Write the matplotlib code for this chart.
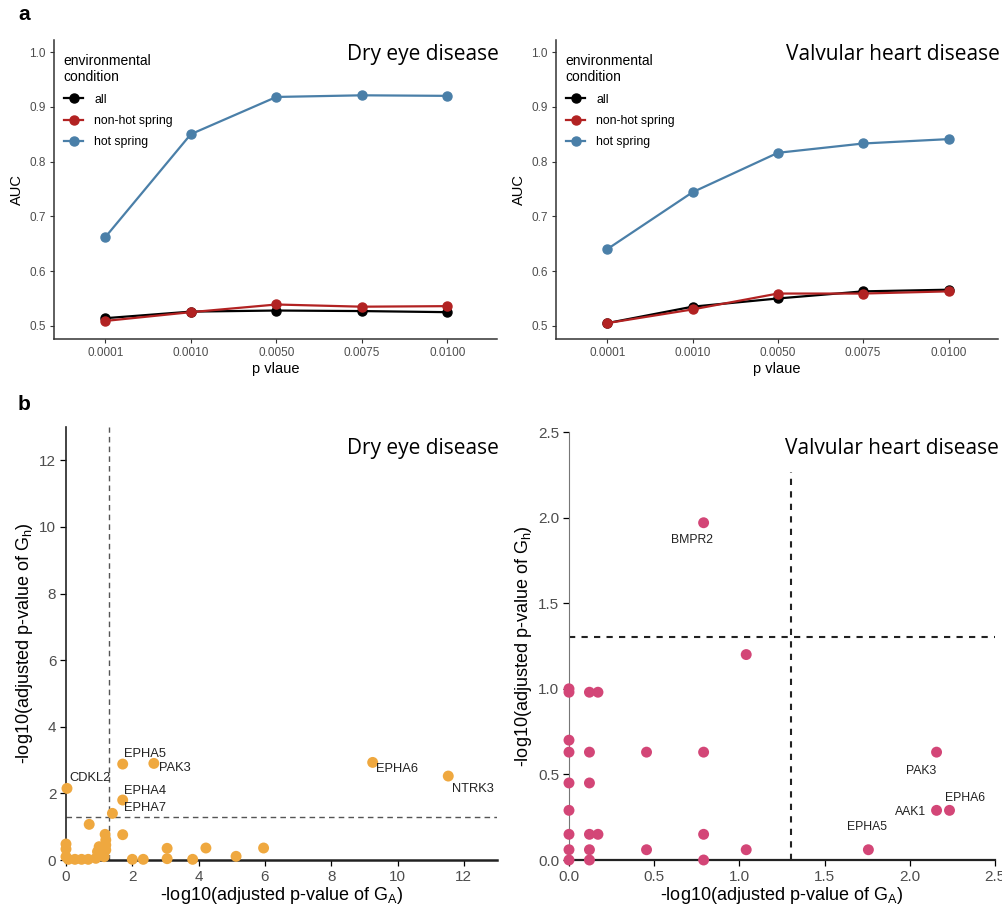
import numpy as np
import matplotlib.pyplot as plt

# ---- panel a data: AUC vs p value threshold
p_labels = ["0.0001", "0.0010", "0.0050", "0.0075", "0.0100"]
dry_all = [0.514, 0.526, 0.528, 0.527, 0.525]
dry_nonhot = [0.509, 0.525, 0.539, 0.535, 0.536]
dry_hot = [0.662, 0.850, 0.918, 0.921, 0.920]
valv_all = [0.505, 0.535, 0.550, 0.563, 0.566]
valv_nonhot = [0.505, 0.530, 0.559, 0.559, 0.563]
valv_hot = [0.640, 0.744, 0.816, 0.833, 0.841]

# ---- panel b data: -log10 adjusted p (G_A on x, G_h on y)
dry_x = [0.03, 1.71, 2.65, 1.71, 1.40, 9.25, 11.53, 0.70, 1.71, 1.18, 1.00, 1.10,
         1.20, 3.05, 4.22, 5.13, 5.96, 3.82, 2.00, 2.33, 3.05, 0.00, 0.00, 0.07,
         0.27, 0.47, 0.67, 0.90, 1.05, 1.20, 0.95, 1.15, 1.20, 0.00]
dry_y = [2.15, 2.88, 2.90, 1.80, 1.40, 2.93, 2.52, 1.07, 0.76, 0.77, 0.40, 0.35,
         0.45, 0.35, 0.36, 0.11, 0.36, 0.02, 0.02, 0.02, 0.04, 0.48, 0.33, 0.02,
         0.02, 0.02, 0.02, 0.05, 0.15, 0.60, 0.25, 0.10, 0.30, 0.10]
dry_genes = {"CDKL2": (0.03, 2.15), "EPHA5": (1.71, 2.88), "PAK3": (2.65, 2.90),
             "EPHA4": (1.71, 1.80), "EPHA7": (1.40, 1.40), "EPHA6": (9.25, 2.93),
             "NTRK3": (11.53, 2.52)}

valv_x = [0.79, 1.04, 0, 0, 0, 0, 0, 0, 0, 0, 0, 0.12, 0.12, 0.12, 0.12, 0.12, 0.12,
          0.17, 0.17, 0.455, 0.455, 0.79, 0.79, 0.79, 1.04, 1.757, 2.157, 2.157, 2.233]
valv_y = [1.97, 1.20, 0.98, 1.00, 0.70, 0.63, 0.45, 0.29, 0.15, 0.06, 0.0, 0.98, 0.63,
          0.45, 0.15, 0.06, 0.0, 0.98, 0.15, 0.63, 0.06, 0.63, 0.15, 0.0, 0.06, 0.06,
          0.63, 0.29, 0.29]
valv_genes = {"BMPR2": (0.79, 1.97), "EPHA5": (1.757, 0.06), "PAK3": (2.157, 0.63),
              "AAK1": (2.157, 0.29), "EPHA6": (2.233, 0.29)}

plt.rcParams['font.family'] = ['Liberation Sans', 'DejaVu Sans']
plt.rcParams['mathtext.fontset'] = 'custom'
plt.rcParams['mathtext.rm'] = 'Liberation Sans'

W, H = 1002, 913
fig = plt.figure(figsize=(W / 100, H / 100), dpi=100)

def ax_px(x0, y0, x1, y1):
    return fig.add_axes([x0 / W, 1 - y1 / H, (x1 - x0) / W, (y1 - y0) / H])

grey = "#4D4D4D"
c_all, c_non, c_hot = "black", "#B22222", "#4A7FA8"

def panel_a(ax, s_all, s_non, s_hot, title):
    xs = np.arange(len(p_labels))
    ax.plot(xs, s_all, "-o", color=c_all, lw=1.6, ms=6.5, label="all", zorder=3)
    ax.plot(xs, s_non, "-o", color=c_non, lw=1.6, ms=6.5, label="non-hot spring", zorder=3)
    ax.plot(xs, s_hot, "-o", color=c_hot, lw=1.6, ms=6.5, label="hot spring", zorder=3)
    ax.set_xlim(-0.6, 4.58)
    ax.set_ylim(0.476, 1.022)
    ax.set_xticks(xs)
    ax.set_xticklabels(p_labels)
    ax.set_yticks([0.5, 0.6, 0.7, 0.8, 0.9, 1.0])
    ax.set_yticklabels(["0.5", "0.6", "0.7", "0.8", "0.9", "1.0"])
    ax.tick_params(labelsize=8.5, labelcolor=grey, color="#333333", length=3, width=0.8, pad=3)
    for s in ["top", "right"]:
        ax.spines[s].set_visible(False)
    for s in ["left", "bottom"]:
        ax.spines[s].set_color("#333333")
        ax.spines[s].set_linewidth(1.1)
    ax.set_xlabel("p vlaue", fontsize=10.5, labelpad=2)
    ax.set_ylabel("AUC", fontsize=10.5, labelpad=4)
    leg = ax.legend(title="environmental\ncondition", loc="upper left", frameon=False,
                    fontsize=8.8, title_fontsize=10, handlelength=1.6, handletextpad=0.9,
                    bbox_to_anchor=(0.0, 0.985), labelspacing=0.75, borderaxespad=0.4)
    leg._legend_box.align = "left"
    ax.text(1.005, 0.985, title, transform=ax.transAxes, ha="right", va="top",
            fontsize=15, family="Open Sans")

ax1 = ax_px(54, 40, 497, 339)
panel_a(ax1, dry_all, dry_nonhot, dry_hot, "Dry eye disease")
ax2 = ax_px(556, 40, 998, 339)
panel_a(ax2, valv_all, valv_nonhot, valv_hot, "Valvular heart disease")

def style_b(ax):
    for s in ["top", "right"]:
        ax.spines[s].set_visible(False)
    ax.tick_params(labelsize=11, labelcolor=grey, length=4, width=0.9, pad=3)
    ax.set_xlabel(r"-log10(adjusted p-value of $\mathregular{G_A}$)", fontsize=13, labelpad=1)
    ax.set_ylabel(r"-log10(adjusted p-value of $\mathregular{G_h}$)", fontsize=13, labelpad=3)

# dry eye scatter
ax3 = ax_px(66, 427, 497, 860)
ax3.scatter(dry_x, dry_y, s=62, color="#EFA83F", edgecolors="none", zorder=3, clip_on=False)
ax3.axvline(-np.log10(0.05), color="#555555", lw=1, ls=(0, (4, 3)), zorder=1)
ax3.axhline(-np.log10(0.05), color="#555555", lw=1, ls=(0, (4, 3)), zorder=1)
ax3.set_xlim(0, 13)
ax3.set_ylim(0, 13)
ax3.set_xticks([0, 2, 4, 6, 8, 10, 12])
ax3.set_yticks([0, 2, 4, 6, 8, 10, 12])
for s in ["left", "bottom"]:
    ax3.spines[s].set_color("#222222")
ax3.spines["bottom"].set_linewidth(1.8)
ax3.spines["left"].set_linewidth(1.2)
style_b(ax3)
offs = {"CDKL2": (0.07, 0.3, "left"), "EPHA5": (0.05, 0.3, "left"),
        "PAK3": (0.15, -0.15, "left"), "EPHA4": (0.05, 0.28, "left"),
        "EPHA7": (0.35, 0.15, "left"), "EPHA6": (0.1, -0.2, "left"),
        "NTRK3": (0.12, -0.4, "left")}
for g, (gx, gy) in dry_genes.items():
    dx, dy, ha = offs[g]
    ax3.text(gx + dx, gy + dy, g, fontsize=9.3, ha=ha, va="center", color="#222222", zorder=4)
ax3.text(1.005, 0.975, "Dry eye disease", transform=ax3.transAxes, ha="right", va="top",
         fontsize=15, family="Open Sans")

# valvular heart disease scatter
ax4 = ax_px(569, 432, 995, 860)
ax4.scatter(valv_x, valv_y, s=62, color="#D34677", edgecolors="none", zorder=3, clip_on=False)
ax4.axvline(-np.log10(0.05), color="#222222", lw=1.5, ls=(0, (3, 3)), zorder=1)
ax4.axhline(-np.log10(0.05), color="#222222", lw=1.5, ls=(0, (3, 3)), zorder=1)
ax4.set_xlim(0, 2.5)
ax4.set_ylim(0, 2.5)
ax4.set_xticks([0, 0.5, 1.0, 1.5, 2.0, 2.5])
ax4.set_yticks([0, 0.5, 1.0, 1.5, 2.0, 2.5])
ax4.spines["left"].set_color("#777777")
ax4.spines["bottom"].set_color("#222222")
ax4.spines["bottom"].set_linewidth(1.6)
style_b(ax4)
offs = {"BMPR2": (-0.07, -0.1, "center"), "EPHA5": (-0.01, 0.13, "center"),
        "PAK3": (-0.09, -0.11, "center"), "AAK1": (-0.06, -0.01, "right"),
        "EPHA6": (0.09, 0.07, "center")}
for g, (gx, gy) in valv_genes.items():
    dx, dy, ha = offs[g]
    ax4.text(gx + dx, gy + dy, g, fontsize=8.8, ha=ha, va="center", color="#222222", zorder=4)
ax4.text(1.01, 0.985, "Valvular heart disease", transform=ax4.transAxes, ha="right", va="top",
         fontsize=15, family="Open Sans", zorder=2,
         bbox=dict(facecolor="white", edgecolor="none", pad=9))

fig.text(18 / W, 1 - 15 / H, "a", fontsize=15, fontweight="bold", va="center")
fig.text(18 / W, 1 - 405 / H, "b", fontsize=15, fontweight="bold", va="center")

plt.savefig("out.png", dpi=100)
